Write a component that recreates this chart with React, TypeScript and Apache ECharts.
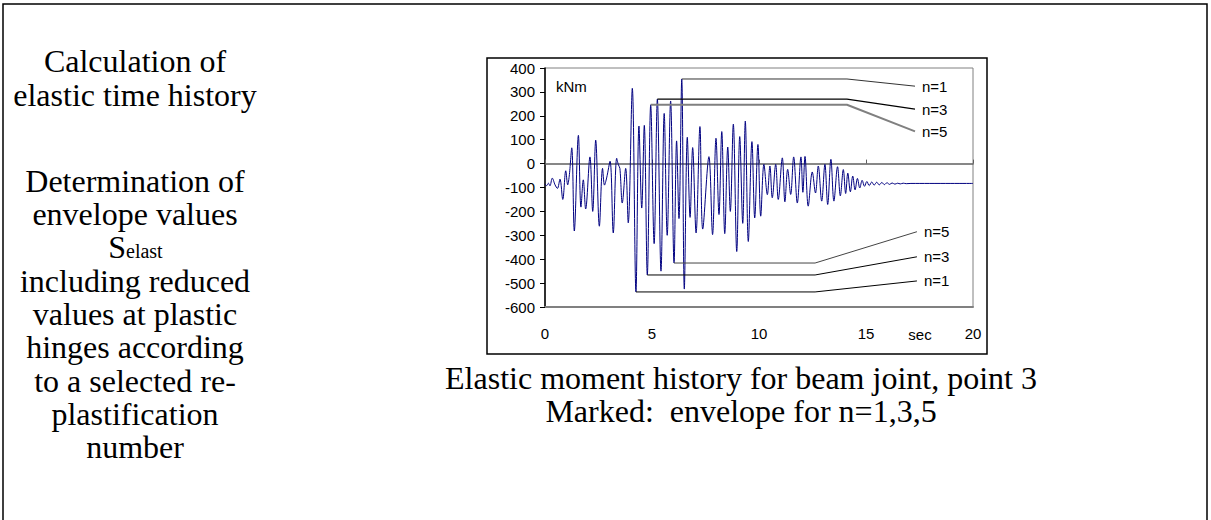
import React, { useEffect, useRef } from "react";
import * as echarts from "echarts";

// Elastic moment history (extrema), time in seconds, moment in kNm
const timeSec = [
  0.0, 0.08, 0.16, 0.23, 0.34, 0.47, 0.58, 0.7, 0.83, 0.97, 1.06, 1.14, 1.25, 1.37, 1.56, 1.68, 1.79, 1.9,
  2.1, 2.23, 2.37, 2.54, 2.69, 2.78, 2.88, 3.04, 3.19, 3.35, 3.43, 3.5, 3.61, 3.77, 3.89, 4.08, 4.25, 4.39,
  4.52, 4.64, 4.78, 4.94, 5.1, 5.25, 5.42, 5.57, 5.71, 5.87, 6.03, 6.15, 6.26, 6.39, 6.51, 6.65, 6.78, 6.9,
  7.06, 7.24, 7.37, 7.66, 7.83, 7.99, 8.13, 8.26, 8.4, 8.54, 8.66, 8.8, 8.96, 9.1, 9.24, 9.36, 9.5, 9.67,
  9.8, 9.95, 10.08, 10.23, 10.39, 10.51, 10.62, 10.78, 10.9, 11.09, 11.21, 11.34, 11.48, 11.62, 11.79, 11.96,
  12.05, 12.15, 12.3, 12.49, 12.64, 12.77, 12.93, 13.08, 13.21, 13.36, 13.5, 13.67, 13.8, 13.94, 14.05, 14.15,
  14.27, 14.38, 14.49, 14.6, 14.71, 14.82, 14.93, 15.04, 15.15, 15.27, 15.38, 15.5, 15.62, 15.74, 15.86,
  15.98, 16.1, 16.22, 16.35, 16.48, 16.6, 16.74, 16.88, 17.1, 20.0,
];
const momentKNm = [
  -85, -92, -82, -93, -61, -89, -104, -65, -150, -30, -89, -46, 66, -282, 118, -182, -68, -190,
  28, -200, 98, -262, -20, -90, -60, 10, -290, 22, -5, -20, -165, -20, -248, 315, -537, 157,
  -186, 160, -466, 246, -335, 270, -450, 210, -300, 262, -416, 95, -230, 354, -525, 110, -225, 67,
  -290, 155, -274, 29, -297, 106, -213, 134, -293, 69, -200, 165, -368, 113, -250, 178, -326, 92,
  -227, 80, -220, -3, -130, -10, -143, -3, -150, 24, -160, -24, -129, 28, -165, 28,
  -120, 30, -178, -35, -123, -10, -157, -3, -171, 18, -157, -13, -135, -25, -125, -40,
  -118, -52, -110, -62, -102, -70, -95, -75, -92, -77, -90, -78, -89, -79, -88,
  -80, -87, -81, -86, -82, -85, -82, -84, -83, -83,
];

// Envelopes for n = 1, 3, 5
const envelopeNames = ["n=1", "n=3", "n=5"];
const upperEnvValue = [354, 270, 246];
const upperEnvStart = [6.39, 5.25, 4.94];
const upperLabelValue = [324, 228, 135];
const lowerEnvValue = [-537, -466, -416];
const lowerEnvStart = [4.25, 4.78, 6.03];
const lowerLabelValue = [-491, -390, -285];
const upperBend = 14.11;
const lowerBend = 12.62;
const upperLeaderEnd = 17.29;
const lowerLeaderEnd = 17.38;

const leftLines = [
  "Calculation of",
  "elastic time history",
  "Determination of",
  "envelope values",
  "including reduced",
  "values at plastic",
  "hinges according",
  "to a selected re-",
  "plastification",
  "number",
];
const captionLines = ["Elastic moment history for beam joint, point 3", "Marked:  envelope for n=1,3,5"];

const SERIF = "'Liberation Serif', 'Times New Roman', serif";
const SANS = "'Liberation Sans', Arial, sans-serif";

export default function App() {
  const ref = useRef<HTMLDivElement>(null);
  useEffect(() => {
    if (!ref.current) return;
    const chart = echarts.init(ref.current, null, { renderer: "svg" });

    const upperColors = ["#333333", "#000000", "#808080"];
    const upperWidths = [1, 1.2, 2];
    const lowerColors = ["#000000", "#000000", "#444444"];

    const envSeries: any[] = [];
    envelopeNames.forEach((name, i) => {
      envSeries.push({
        type: "line",
        name: name + " max",
        data: [
          [upperEnvStart[i], upperEnvValue[i]],
          [upperBend, upperEnvValue[i]],
          [upperLeaderEnd, upperLabelValue[i]],
        ],
        symbol: "none",
        lineStyle: { color: upperColors[i], width: upperWidths[i] },
        z: 5,
        endLabel: {
          show: true,
          formatter: name,
          distance: 7,
          color: "#000",
          fontSize: 15,
          fontFamily: SANS,
        },
      });
      envSeries.push({
        type: "line",
        name: name + " min",
        data: [
          [lowerEnvStart[i], lowerEnvValue[i]],
          [lowerBend, lowerEnvValue[i]],
          [lowerLeaderEnd, lowerLabelValue[i]],
        ],
        symbol: "none",
        lineStyle: { color: lowerColors[i], width: 1 },
        z: 5,
        endLabel: {
          show: true,
          formatter: name,
          distance: 7,
          color: "#000",
          fontSize: 15,
          fontFamily: SANS,
        },
      });
    });

    const leftMid = [61, 95, 181, 214, 281, 314, 347, 381, 414, 447];
    const graphics: any[] = [
      {
        type: "rect",
        shape: { x: 3, y: 4, width: 1204, height: 540 },
        style: { fill: "none", stroke: "#000", lineWidth: 1.5 },
        silent: true,
      },
      {
        type: "rect",
        shape: { x: 487, y: 58, width: 500, height: 296 },
        style: { fill: "none", stroke: "#000", lineWidth: 1.5 },
        silent: true,
      },
      {
        type: "text",
        x: 556,
        y: 86,
        style: { text: "kNm", font: `15px ${SANS}`, fill: "#000", textVerticalAlign: "middle" },
      },
      {
        type: "text",
        x: 920,
        y: 334,
        style: { text: "sec", font: `15px ${SANS}`, fill: "#000", textAlign: "center", textVerticalAlign: "middle" },
      },
      {
        type: "text",
        x: 126,
        y: 247,
        style: {
          text: "S",
          font: `32px ${SERIF}`,
          lineHeight: 30,
          fill: "#000",
          textAlign: "right",
          textVerticalAlign: "middle",
        },
      },
      {
        type: "text",
        x: 126,
        y: 251,
        style: {
          text: "elast",
          font: `20px ${SERIF}`,
          lineHeight: 18,
          fill: "#000",
          textAlign: "left",
          textVerticalAlign: "middle",
        },
      },
    ];
    leftLines.forEach((t, i) => {
      graphics.push({
        type: "text",
        x: 135,
        y: leftMid[i],
        style: {
          text: t,
          font: `32px ${SERIF}`,
          lineHeight: 32,
          fill: "#000",
          textAlign: "center",
          textVerticalAlign: "middle",
        },
      });
    });
    captionLines.forEach((t, i) => {
      graphics.push({
        type: "text",
        x: 741,
        y: 378 + i * 33,
        style: {
          text: t,
          font: `32px ${SERIF}`,
          lineHeight: 31,
          fill: "#000",
          textAlign: "center",
          textVerticalAlign: "middle",
        },
      });
    });

    chart.setOption({
      animation: false,
      grid: {
        left: 545,
        top: 68,
        right: 238,
        bottom: 213,
        show: true,
        borderColor: "#808080",
        borderWidth: 1,
        backgroundColor: "transparent",
      },
      xAxis: [
        {
          type: "value",
          min: 0,
          max: 20,
          interval: 5,
          position: "bottom",
          axisLine: { show: true, onZero: false, lineStyle: { color: "#808080", width: 2 } },
          axisTick: { show: false },
          axisLabel: { margin: 19, fontSize: 15, color: "#000", fontFamily: SANS },
          splitLine: { show: false },
        },
        {
          type: "value",
          min: 0,
          max: 20,
          interval: 5,
          position: "bottom",
          axisLine: { show: true, onZero: true, lineStyle: { color: "#606060", width: 1.5 } },
          axisTick: { show: true, inside: true, length: 4, lineStyle: { color: "#606060" } },
          axisLabel: { show: false },
          splitLine: { show: false },
        },
      ],
      yAxis: {
        type: "value",
        min: -600,
        max: 400,
        interval: 100,
        axisLine: { show: true, onZero: false, lineStyle: { color: "#000", width: 1.5 } },
        axisTick: { show: true, length: 5, lineStyle: { color: "#000" } },
        axisLabel: { margin: 10, fontSize: 15, color: "#000", fontFamily: SANS },
        splitLine: { show: false },
      },
      series: [
        {
          type: "line",
          name: "moment",
          data: timeSec.map((t, i) => [t, momentKNm[i]]),
          symbol: "none",
          smooth: 0.35,
          lineStyle: { color: "#000080", width: 1 },
          z: 3,
        },
        ...envSeries,
      ],
      graphic: graphics,
    });
    return () => chart.dispose();
  }, []);
  return <div ref={ref} style={{ position: "absolute", left: 0, top: 0, width: 1211, height: 520 }} />;
}
